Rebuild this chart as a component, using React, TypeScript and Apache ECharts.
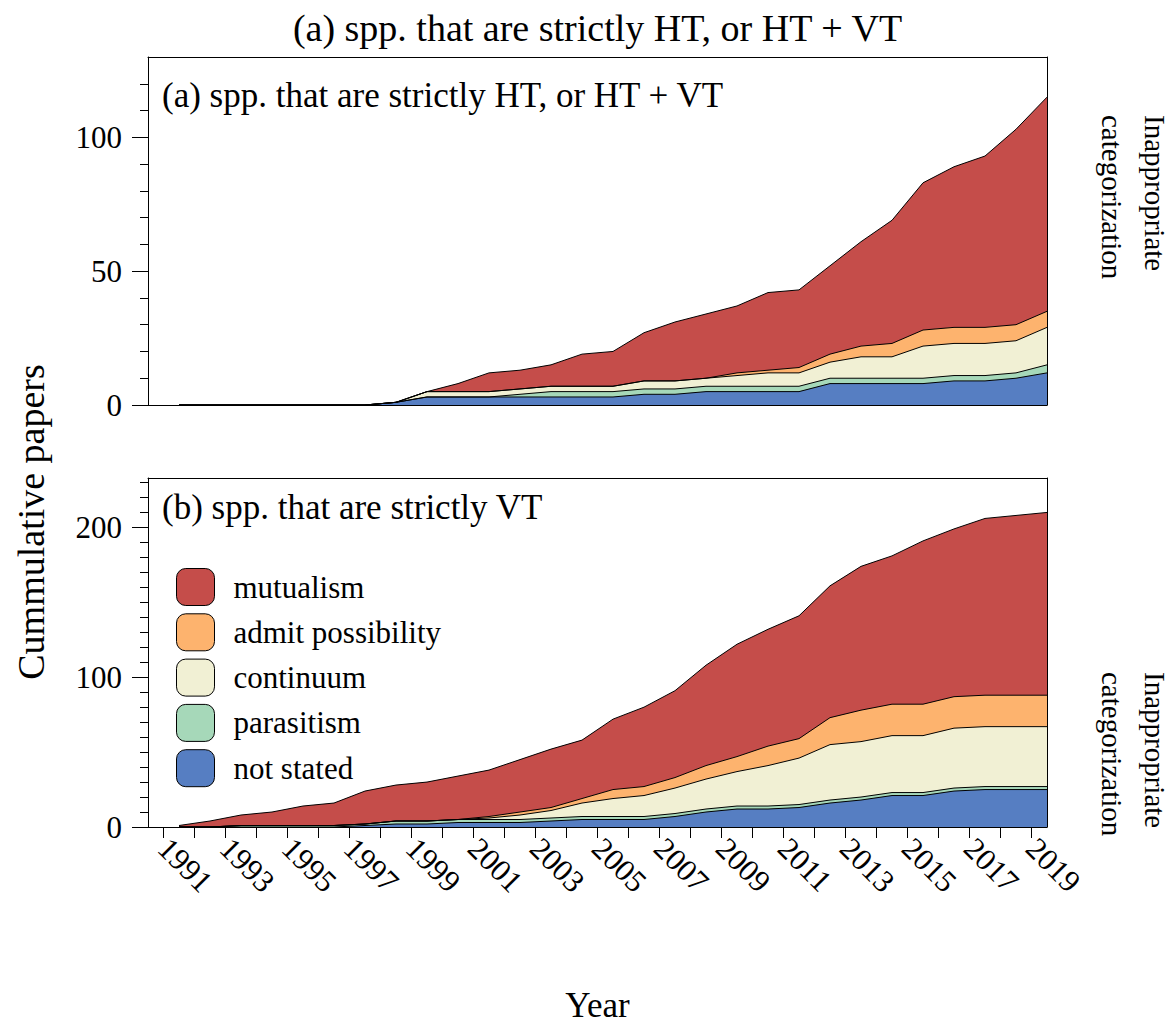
import React, { useEffect, useRef } from "react";
import * as echarts from "echarts";

// ---------- data ----------
const years = [
  1991, 1992, 1993, 1994, 1995, 1996, 1997, 1998, 1999, 2000, 2001, 2002, 2003, 2004, 2005,
  2006, 2007, 2008, 2009, 2010, 2011, 2012, 2013, 2014, 2015, 2016, 2017, 2018, 2019,
];
const xTickYears = years;
const xLabelYears = [1991, 1993, 1995, 1997, 1999, 2001, 2003, 2005, 2007, 2009, 2011, 2013, 2015, 2017, 2019];

// stacking order, bottom to top
const categoryNames = ["not stated", "parasitism", "continuum", "admit possibility", "mutualism"];
const categoryColors = ["#567ec2", "#a6d8b9", "#f1f0d4", "#fdb36e", "#c54d4a"];
const legendOrder = ["mutualism", "admit possibility", "continuum", "parasitism", "not stated"];

// (a) strictly HT, or HT + VT (cumulative papers per category)
const topNotStated = [0, 0, 0, 0, 0, 0, 0, 1, 3, 3, 3, 3, 3, 3, 3, 4, 4, 5, 5, 5, 5, 8, 8, 8, 8, 9, 9, 10, 12];
const topParasitism = [0, 0, 0, 0, 0, 0, 0, 0, 0, 0, 0, 1, 2, 2, 2, 2, 2, 2, 2, 2, 2, 2, 2, 2, 2, 2, 2, 2, 3];
const topContinuum = [0, 0, 0, 0, 0, 0, 0, 0, 2, 2, 2, 2, 2, 2, 2, 3, 3, 3, 4, 5, 5, 6, 8, 8, 12, 12, 12, 12, 14];
const topAdmit = [0, 0, 0, 0, 0, 0, 0, 0, 0, 0, 0, 0, 0, 0, 0, 0, 0, 0, 1, 1, 2, 3, 4, 5, 6, 6, 6, 6, 6];
const topMutualism = [0, 0, 0, 0, 0, 0, 0, 0, 0, 3, 7, 7, 8, 12, 13, 18, 22, 24, 25, 29, 29, 33, 39, 46, 55, 60, 64, 73, 80];

// (b) strictly VT
const botNotStated = [0, 0, 0, 0, 0, 0, 1, 2, 2, 3, 3, 3, 4, 5, 5, 5, 7, 10, 12, 12, 13, 16, 18, 21, 21, 24, 25, 25, 25];
const botParasitism = [0, 0, 1, 1, 1, 1, 1, 2, 2, 2, 2, 2, 2, 2, 2, 2, 2, 2, 2, 2, 2, 2, 2, 2, 2, 2, 2, 2, 2];
const botContinuum = [0, 0, 0, 0, 0, 0, 0, 0, 0, 0, 1, 3, 5, 9, 12, 14, 17, 20, 23, 27, 31, 37, 37, 38, 38, 40, 40, 40, 40];
const botAdmit = [0, 0, 0, 0, 0, 0, 0, 0, 0, 0, 1, 2, 2, 3, 6, 6, 7, 9, 10, 13, 13, 18, 21, 21, 21, 21, 21, 21, 21];
const botMutualism = [1, 4, 7, 9, 13, 15, 22, 24, 26, 29, 31, 35, 39, 39, 47, 53, 58, 67, 75, 78, 82, 88, 96, 99, 109, 112, 118, 120, 122];

const topSeriesValues = [topNotStated, topParasitism, topContinuum, topAdmit, topMutualism];
const botSeriesValues = [botNotStated, botParasitism, botContinuum, botAdmit, botMutualism];

const topMajorTicks = [0, 50, 100];
const topMinorTicks = [0, 10, 20, 30, 40, 50, 60, 70, 80, 90, 100, 110, 120];
const botMajorTicks = [0, 100, 200];
const botMinorTicks = [0, 10, 20, 30, 40, 50, 60, 70, 80, 90, 100, 110, 120, 130, 140, 150, 160, 170, 180, 190, 200, 210, 220, 230];

const titleText = "(a) spp. that are strictly HT, or HT + VT";
const panelAText = "(a) spp. that are strictly HT, or HT + VT";
const panelBText = "(b) spp. that are strictly VT";
const yTitle = "Cummulative papers";
const xTitle = "Year";
const sideText = "Inappropriate\ncategorization";

// ---------- layout / style ----------
const FONT = '"Liberation Serif", "Times New Roman", serif';
const X_MIN = 1990.5;
const X_MAX = 2019.5;
const MID_YEAR = 0.5;
const TOP_YMAX = 130;
const BOT_YMAX = 233;
const BLACK = "#000";

// running stack totals (the stackplot's layer tops)
function cumulative(layers: number[][]): number[][] {
  const out: number[][] = [];
  layers.forEach((vals, i) => {
    out.push(vals.map((v, k) => v + (i > 0 ? out[i - 1][k] : 0)));
  });
  return out;
}

function buildOption() {
  const line = { show: true, onZero: false, lineStyle: { color: BLACK, width: 1 } };
  const noLine = { show: false, onZero: false };

  const xAxes: any[] = [];
  const yAxes: any[] = [];
  [0, 1].forEach((g) => {
    const isBottom = g === 1;
    xAxes.push({
      gridIndex: g,
      type: "value",
      position: "bottom",
      min: X_MIN,
      max: X_MAX,
      axisLine: line,
      axisTick: isBottom
        ? { show: true, customValues: xTickYears, length: 11, lineStyle: { color: BLACK, width: 1 } }
        : { show: false },
      axisLabel: isBottom
        ? {
            show: true,
            customValues: xLabelYears,
            rotate: -45,
            margin: 16,
            fontFamily: FONT,
            fontSize: 31,
            color: BLACK,
            formatter: (v: number) => String(v),
          }
        : { show: false },
      splitLine: { show: false },
      z: 10,
    });
    xAxes.push({
      gridIndex: g,
      type: "value",
      position: "top",
      min: X_MIN,
      max: X_MAX,
      axisLine: line,
      axisTick: { show: false },
      axisLabel: { show: false },
      splitLine: { show: false },
      z: 10,
    });

    const ymax = isBottom ? BOT_YMAX : TOP_YMAX;
    const major = isBottom ? botMajorTicks : topMajorTicks;
    const minor = isBottom ? botMinorTicks : topMinorTicks;
    yAxes.push({
      gridIndex: g,
      type: "value",
      position: "left",
      min: 0,
      max: ymax,
      axisLine: line,
      axisTick: { show: true, customValues: minor, length: 8, lineStyle: { color: BLACK, width: 1 } },
      axisLabel: {
        show: true,
        customValues: major,
        margin: 26,
        fontFamily: FONT,
        fontSize: 31,
        color: BLACK,
        formatter: (v: number) => String(v),
      },
      splitLine: { show: false },
      z: 10,
    });
    yAxes.push({
      gridIndex: g,
      type: "value",
      position: "left",
      min: 0,
      max: ymax,
      axisLine: noLine,
      axisTick: { show: true, customValues: major, length: 16, lineStyle: { color: BLACK, width: 1 } },
      axisLabel: { show: false },
      splitLine: { show: false },
      z: 10,
    });
    yAxes.push({
      gridIndex: g,
      type: "value",
      position: "right",
      min: 0,
      max: ymax,
      axisLine: line,
      axisTick: { show: false },
      axisLabel: { show: false },
      splitLine: { show: false },
      z: 10,
    });
  });

  const series: any[] = [];
  const addPanel = (values: number[][], g: number) => {
    const tops = cumulative(values);
    // draw the highest layer first so each lower layer is painted over it
    for (let i = tops.length - 1; i >= 0; i--) {
      const layerTop = tops[i];
      series.push({
        type: "line",
        name: categoryNames[i],
        xAxisIndex: g * 2,
        yAxisIndex: g * 3,
        data: years.map((y, k) => [y + MID_YEAR, layerTop[k]]),
        symbol: "none",
        showSymbol: false,
        lineStyle: { color: BLACK, width: 1 },
        itemStyle: { color: categoryColors[i] },
        areaStyle: { color: categoryColors[i], opacity: 1, origin: "start" },
        silent: true,
        emphasis: { disabled: true },
        z: 2,
      });
    }
  };
  addPanel(topSeriesValues, 0);
  addPanel(botSeriesValues, 1);

  const colorOf = (name: string) => categoryColors[categoryNames.indexOf(name)];

  return {
    animation: false,
    backgroundColor: "#fff",
    grid: [
      { left: 148, right: 128, top: 57, height: 348, show: false },
      { left: 148, right: 128, top: 478, height: 349, show: false },
    ],
    xAxis: xAxes,
    yAxis: yAxes,
    legend: {
      show: true,
      orient: "vertical",
      left: 176,
      top: 568,
      padding: 0,
      itemWidth: 38,
      itemHeight: 37,
      itemGap: 7.3,
      selectedMode: false,
      data: legendOrder.map((name) => ({
        name,
        icon: "roundRect",
        itemStyle: { color: colorOf(name), borderColor: BLACK, borderWidth: 1 },
      })),
      textStyle: { fontFamily: FONT, fontSize: 31, color: BLACK, padding: [0, 0, 0, 14] },
    },
    series,
    graphic: [
      {
        type: "text",
        x: 597.5,
        y: 28,
        style: { text: titleText, fontFamily: FONT, fontSize: 38, fill: BLACK, align: "center", verticalAlign: "middle" },
      },
      {
        type: "text",
        x: 162,
        y: 95,
        style: { text: panelAText, fontFamily: FONT, fontSize: 35, fill: BLACK, align: "left", verticalAlign: "middle" },
      },
      {
        type: "text",
        x: 162,
        y: 507,
        style: { text: panelBText, fontFamily: FONT, fontSize: 35, fill: BLACK, align: "left", verticalAlign: "middle" },
      },
      {
        type: "text",
        x: 31,
        y: 522,
        rotation: Math.PI / 2,
        style: { text: yTitle, fontFamily: FONT, fontSize: 38, fill: BLACK, align: "center", verticalAlign: "middle" },
      },
      {
        type: "text",
        x: 597.5,
        y: 1005,
        style: { text: xTitle, fontFamily: FONT, fontSize: 35, fill: BLACK, align: "center", verticalAlign: "middle" },
      },
      {
        type: "text",
        x: 1133,
        y: 115,
        rotation: -Math.PI / 2,
        style: { text: sideText, fontFamily: FONT, fontSize: 29, lineHeight: 43, fill: BLACK, align: "left", verticalAlign: "middle" },
      },
      {
        type: "text",
        x: 1133,
        y: 672,
        rotation: -Math.PI / 2,
        style: { text: sideText, fontFamily: FONT, fontSize: 29, lineHeight: 43, fill: BLACK, align: "left", verticalAlign: "middle" },
      },
    ],
  };
}

export default function App() {
  const ref = useRef<HTMLDivElement>(null);
  useEffect(() => {
    if (!ref.current) return;
    const chart = echarts.init(ref.current, null, { renderer: "svg" });
    chart.setOption(buildOption() as any);
    return () => chart.dispose();
  }, []);
  return (
    <div
      ref={ref}
      style={{ position: "absolute", left: 0, top: 0, width: 1175, height: 1026, background: "#fff" }}
    />
  );
}
